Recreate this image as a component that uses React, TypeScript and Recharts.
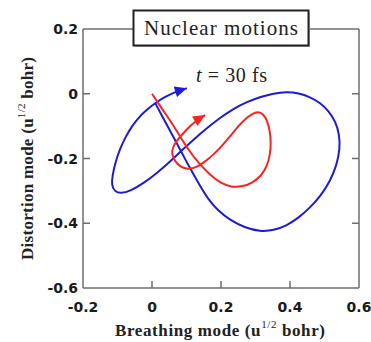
import { LineChart, Line, XAxis, YAxis } from 'recharts';

const xTicks = [-0.2, 0, 0.2, 0.4, 0.6];
const yTicks = [-0.6, -0.4, -0.2, 0, 0.2];

// blue trajectory (breathing, distortion)
const blueBreathing = [
  0.01, 0.03, 0.05, 0.072, 0.095, 0.118, 0.14, 0.163, 0.192, 0.227, 0.268, 0.314, 0.353, 0.389, 0.424,
  0.458, 0.49, 0.516, 0.535, 0.545, 0.543, 0.532, 0.512, 0.488, 0.458, 0.425, 0.39, 0.352, 0.316, 0.275,
  0.235, 0.195, 0.157, 0.121, 0.087, 0.052, 0.014, -0.025, -0.062, -0.091, -0.109, -0.117, -0.115,
  -0.107, -0.094, -0.077, -0.058, -0.037, -0.014, 0.01, 0.035, 0.058, 0.08, 0.101,
];
const blueDistortion = [
  -0.03, -0.07, -0.11, -0.153, -0.2, -0.245, -0.286, -0.326, -0.362, -0.391, -0.413, -0.426, -0.422, -0.408, -0.384,
  -0.352, -0.314, -0.27, -0.222, -0.17, -0.125, -0.086, -0.053, -0.028, -0.01, 0.002, 0.006, 0.001, -0.009, -0.025,
  -0.047, -0.076, -0.108, -0.141, -0.174, -0.21, -0.245, -0.277, -0.3, -0.309, -0.301, -0.282, -0.255,
  -0.215, -0.173, -0.134, -0.1, -0.071, -0.048, -0.028, -0.011, 0.001, 0.01, 0.017,
];

// red trajectory
const redBreathing = [
  0, 0.028, 0.058, 0.082, 0.106, 0.138, 0.172, 0.2, 0.23, 0.263, 0.293, 0.317, 0.333, 0.342, 0.345,
  0.342, 0.334, 0.322, 0.308, 0.29, 0.268, 0.247, 0.226, 0.204, 0.18, 0.154, 0.128, 0.104, 0.082, 0.066,
  0.057, 0.06, 0.071, 0.089, 0.11, 0.132, 0.154,
];
const redDistortion = [
  0, -0.045, -0.091, -0.133, -0.174, -0.218, -0.254, -0.276, -0.289, -0.287, -0.274, -0.253, -0.225, -0.19, -0.153,
  -0.115, -0.083, -0.062, -0.055, -0.062, -0.08, -0.104, -0.132, -0.16, -0.186, -0.21, -0.228, -0.234, -0.226, -0.208,
  -0.186, -0.166, -0.146, -0.124, -0.1, -0.08, -0.066,
];

const bluePts = blueBreathing.map((x, i) => ({ x, y: blueDistortion[i] }));
const redPts = redBreathing.map((x, i) => ({ x, y: redDistortion[i] }));

const AXIS = '#6e6e6e';
const BLUE = '#1c1cd8';
const RED = '#ff2020';
const TICK_FONT = { fontFamily: 'DejaVu Sans', fontWeight: 'bold' as const, fontSize: 14, fill: '#1a1a1a' };

const fmt = (v: number) => (v === 0 ? '0' : String(v));
const inner = (v: number, lo: number, hi: number) => v > lo + 1e-9 && v < hi - 1e-9;

function BottomTick({ x, y, payload }: any) {
  return (
    <g>
      {inner(payload.value, -0.2, 0.6) && <line x1={x} x2={x} y1={y} y2={y - 7} stroke={AXIS} strokeWidth={1.5} />}
      <text x={x} y={y + 24} textAnchor="middle" {...TICK_FONT}>{fmt(payload.value)}</text>
    </g>
  );
}

function LeftTick({ x, y, payload }: any) {
  return (
    <g>
      {inner(payload.value, -0.6, 0.2) && <line x1={x} x2={x + 7} y1={y} y2={y} stroke={AXIS} strokeWidth={1.5} />}
      <text x={x - 5} y={y + 5} textAnchor="end" {...TICK_FONT}>{fmt(payload.value)}</text>
    </g>
  );
}

function RightTick({ x, y, payload }: any) {
  if (!inner(payload.value, -0.6, 0.2)) return <g />;
  return <line x1={x} x2={x - 7} y1={y} y2={y} stroke={AXIS} strokeWidth={1.5} />;
}

// arrow head on the last point of a trajectory
function arrowDot(pts: { x: number; y: number }[], color: string) {
  return (props: any) => {
    const { cx, cy, index } = props;
    if (index !== pts.length - 1 || cx == null) return <g key={`d-${index}`} />;
    const a = pts[index - 1];
    const b = pts[index];
    const dx = (b.x - a.x) * 345;
    const dy = -(b.y - a.y) * 324;
    const len = Math.hypot(dx, dy) || 1;
    const ux = dx / len, uy = dy / len;
    const L = 12, W = 5.5;
    const bx = cx - ux * L, by = cy - uy * L;
    const p = `${cx},${cy} ${bx - uy * W},${by + ux * W} ${bx + uy * W},${by - ux * W}`;
    return <polygon key={`d-${index}`} points={p} fill={color} stroke="none" />;
  };
}

export default function App() {
  return (
    <div style={{ position: 'absolute', left: 0, top: 0, width: 371, height: 342, background: '#fff' }}>
      <LineChart width={371} height={342} margin={{ top: 0, right: 0, bottom: 0, left: 0 }}>
        <XAxis
          dataKey="x"
          type="number"
          domain={[-0.2, 0.6]}
          ticks={xTicks}
          allowDataOverflow
          height={54}
          tickSize={0}
          tickMargin={0}
          tickLine={false}
          axisLine={{ stroke: AXIS, strokeWidth: 1.5 }}
          tick={BottomTick}
          interval={0}
        />
        <XAxis
          xAxisId="top"
          orientation="top"
          dataKey="x"
          type="number"
          domain={[-0.2, 0.6]}
          allowDataOverflow
          height={29}
          tick={false}
          tickLine={false}
          axisLine={{ stroke: AXIS, strokeWidth: 1.5 }}
        />
        <YAxis
          type="number"
          domain={[-0.6, 0.2]}
          ticks={yTicks}
          allowDataOverflow
          width={83}
          tickSize={0}
          tickMargin={0}
          tickLine={false}
          axisLine={{ stroke: AXIS, strokeWidth: 1.5 }}
          tick={LeftTick}
          interval={0}
        />
        <YAxis
          yAxisId="right"
          orientation="right"
          type="number"
          domain={[-0.6, 0.2]}
          ticks={yTicks}
          allowDataOverflow
          width={12}
          tickSize={0}
          tickMargin={0}
          tickLine={false}
          axisLine={{ stroke: AXIS, strokeWidth: 1.5 }}
          tick={RightTick}
          interval={0}
        />
        <Line
          data={bluePts}
          dataKey="y"
          type="basis"
          stroke={BLUE}
          strokeWidth={2}
          dot={arrowDot(bluePts, BLUE)}
          activeDot={false}
          isAnimationActive={false}
        />
        <Line
          data={redPts}
          dataKey="y"
          type="basis"
          stroke={RED}
          strokeWidth={2}
          dot={arrowDot(redPts, RED)}
          activeDot={false}
          isAnimationActive={false}
        />
      </LineChart>
      <svg
        width={371}
        height={342}
        style={{ position: 'absolute', left: 0, top: 0, pointerEvents: 'none' }}
      >
        <rect x={135} y={12} width={175} height={35} fill="#b8b8b8" />
        <rect x={133.5} y={10.5} width={175} height={35} fill="#fff" stroke="#222" strokeWidth={2} />
        <text
          x={221}
          y={35}
          textAnchor="middle"
          fontFamily="Liberation Serif"
          fontSize={21}
          fill="#222"
          textLength={154}
          lengthAdjust="spacing"
        >
          Nuclear motions
        </text>
        <text
          x={196}
          y={82}
          fontFamily="Liberation Serif"
          fontSize={20}
          fill="#222"
          textLength={71}
          lengthAdjust="spacing"
        >
          <tspan fontStyle="italic">t</tspan>
          <tspan> = 30 fs</tspan>
        </text>
        <text
          x={220}
          y={336}
          textAnchor="middle"
          fontFamily="Liberation Serif"
          fontWeight="bold"
          fontSize={17}
          fill="#222"
          textLength={210}
          lengthAdjust="spacing"
        >
          Breathing mode (u
          <tspan fontSize={11} fontWeight="normal" dy={-8}>1/2</tspan>
          <tspan dy={8}> bohr)</tspan>
        </text>
        <g transform="translate(33,158.5) rotate(-90)">
          <text
            x={0}
            y={0}
            textAnchor="middle"
            fontFamily="Liberation Serif"
            fontWeight="bold"
            fontSize={17}
            fill="#222"
            textLength={203}
            lengthAdjust="spacing"
          >
            Distortion mode (u
            <tspan fontSize={11} fontWeight="normal" dy={-8}>1/2</tspan>
            <tspan dy={8}> bohr)</tspan>
          </text>
        </g>
      </svg>
    </div>
  );
}
